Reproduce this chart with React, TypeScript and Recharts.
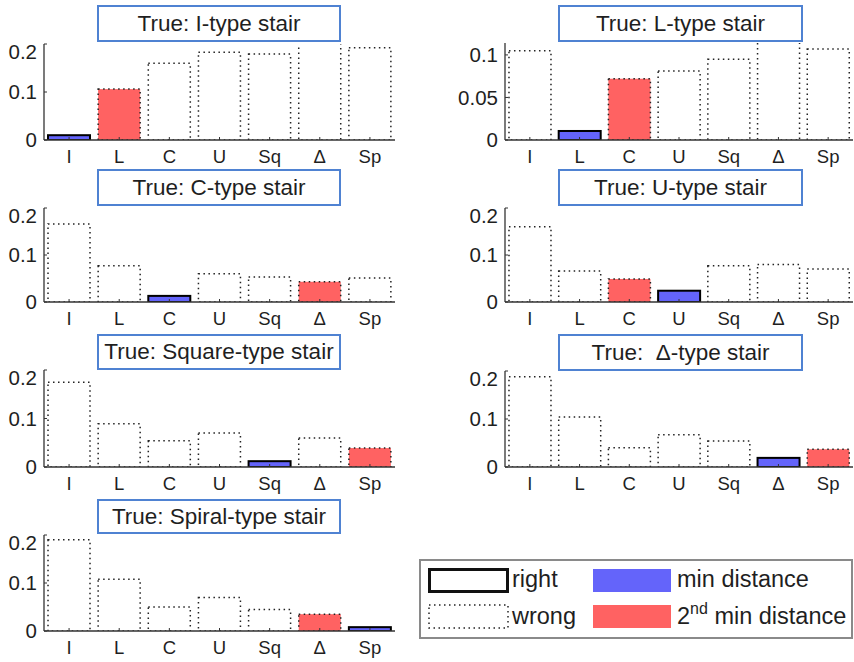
import React from 'react';
import { BarChart, Bar, XAxis, YAxis } from 'recharts';

// template stair types along the x axis
const categories = ['I', 'L', 'C', 'U', 'Sq', 'Δ', 'Sp'];

// distance from each true stair type to the templates
const iTypeDist = [0.01, 0.106, 0.16, 0.183, 0.179, 0.25, 0.192];
const lTypeDist = [0.105, 0.0106, 0.072, 0.081, 0.095, 0.13, 0.107];
const cTypeDist = [0.166, 0.077, 0.013, 0.06, 0.053, 0.043, 0.051];
const uTypeDist = [0.16, 0.066, 0.049, 0.024, 0.077, 0.08, 0.07];
const squareTypeDist = [0.175, 0.089, 0.054, 0.07, 0.012, 0.06, 0.039];
const deltaTypeDist = [0.188, 0.104, 0.04, 0.067, 0.054, 0.019, 0.037];
const spiralTypeDist = [0.19, 0.108, 0.05, 0.07, 0.045, 0.035, 0.008];

const ticksWide = [0, 0.1, 0.2];
const ticksNarrow = [0, 0.05, 0.1];

const FONT = '"Liberation Sans", Arial, Helvetica, sans-serif';
const BLUE = '#6464fa';
const RED = '#ff6262';
const FRAME = '#4f82d2';
const TEXT = '#1f1f1f';

const YW = 60; // y axis width
const TM = 4; // top margin
const RM = 2; // right margin
const XH = 34; // x axis height

type PanelDef = {
  title: string;
  values: number[];
  trueIdx: number;
  yMax: number;
  ticks: number[];
  left: number;
  top: number;
  right: number;
  bottom: number;
  box: [number, number, number, number];
};

const panels: PanelDef[] = [
  { title: 'True: I-type stair', values: iTypeDist, trueIdx: 0, yMax: 0.2, ticks: ticksWide, left: 44, top: 44, right: 395, bottom: 140, box: [97, 5, 341, 42] },
  { title: 'True: L-type stair', values: lTypeDist, trueIdx: 1, yMax: 0.114, ticks: ticksNarrow, left: 505, top: 43, right: 853, bottom: 140, box: [558, 5, 803, 42] },
  { title: 'True: C-type stair', values: cTypeDist, trueIdx: 2, yMax: 0.2, ticks: ticksWide, left: 44, top: 208, right: 395, bottom: 302, box: [97, 169, 341, 206] },
  { title: 'True: U-type stair', values: uTypeDist, trueIdx: 3, yMax: 0.2, ticks: ticksWide, left: 505, top: 208, right: 853, bottom: 302, box: [558, 169, 803, 206] },
  { title: 'True: Square-type stair', values: squareTypeDist, trueIdx: 4, yMax: 0.2, ticks: ticksWide, left: 44, top: 370, right: 395, bottom: 467, box: [97, 334, 341, 370] },
  { title: 'True:  Δ-type stair', values: deltaTypeDist, trueIdx: 5, yMax: 0.2, ticks: ticksWide, left: 505, top: 371, right: 853, bottom: 467, box: [558, 334, 803, 371] },
  { title: 'True: Spiral-type stair', values: spiralTypeDist, trueIdx: 6, yMax: 0.2, ticks: ticksWide, left: 44, top: 535, right: 395, bottom: 631, box: [97, 499, 341, 534] },
];

// bar outline: solid when the template is the right one, dotted otherwise
const makeShape = (minIdx: number, secondIdx: number, trueIdx: number) => (props: any) => {
  const { x, y, width, height } = props;
  const idx = props.payload?.idx ?? props.index;
  const right = idx === trueIdx;
  const fill = idx === minIdx ? BLUE : idx === secondIdx ? RED : 'none';
  return (
    <rect
      x={x}
      y={y}
      width={width}
      height={height}
      fill={fill}
      stroke={right ? '#000' : '#222'}
      strokeWidth={right ? 2 : 1.5}
      strokeDasharray={right ? undefined : '1.5 3.5'}
    />
  );
};

const Panel = ({ p }: { p: PanelDef }) => {
  const data = categories.map((name, i) => ({ name, value: p.values[i], idx: i }));
  const order = p.values.map((v, i) => [v, i]).sort((a, b) => a[0] - b[0]);
  const minIdx = order[0][1];
  const secondIdx = order[1][1];
  const plotW = p.right - p.left;
  const plotH = p.bottom - p.top;
  const [bx1, by1, bx2, by2] = p.box;

  return (
    <>
      <div style={{ position: 'absolute', left: p.left - YW, top: p.top - TM }}>
        <BarChart
          width={YW + plotW + RM}
          height={TM + plotH + XH}
          data={data}
          margin={{ top: TM, right: RM, left: 0, bottom: 0 }}
          barCategoryGap="8%"
        >
          <XAxis
            dataKey="name"
            height={XH}
            interval={0}
            tickSize={-3}
            tickMargin={13}
            axisLine={{ stroke: '#333', strokeWidth: 1.3 }}
            tickLine={{ stroke: '#333' }}
            tick={{ fill: TEXT, fontSize: 18.5, fontFamily: FONT }}
          />
          <YAxis
            width={YW}
            domain={[0, p.yMax]}
            ticks={p.ticks}
            allowDataOverflow
            tickSize={-3}
            tickMargin={10}
            axisLine={{ stroke: '#333', strokeWidth: 1.3 }}
            tickLine={{ stroke: '#333' }}
            tick={{ fill: TEXT, fontSize: 20.5, fontFamily: FONT }}
          />
          <YAxis
            yAxisId="frame"
            orientation="right"
            width={0}
            tick={false}
            tickLine={false}
            axisLine={{ stroke: '#e6e6e6' }}
          />
          <Bar dataKey="value" isAnimationActive={false} shape={makeShape(minIdx, secondIdx, p.trueIdx)} />
        </BarChart>
      </div>
      <div
        style={{
          position: 'absolute',
          left: bx1,
          top: by1,
          width: bx2 - bx1 - 4,
          height: by2 - by1 - 4,
          border: `2px solid ${FRAME}`,
          background: '#fff',
          fontFamily: FONT,
          fontSize: 22.5,
          color: TEXT,
          display: 'flex',
          alignItems: 'center',
          justifyContent: 'center',
          whiteSpace: 'pre',
        }}
      >
        {p.title}
      </div>
    </>
  );
};

const legendText: React.CSSProperties = {
  position: 'absolute',
  fontFamily: FONT,
  fontSize: 23.5,
  color: TEXT,
  lineHeight: '26px',
  whiteSpace: 'nowrap',
};

const Legend = () => (
  <div
    style={{
      position: 'absolute',
      left: 419,
      top: 559,
      width: 430,
      height: 76,
      border: '2px solid #8a8a8a',
      background: '#fff',
    }}
  >
    <svg width={430} height={76} style={{ position: 'absolute', left: 0, top: 0 }}>
      <rect x={8.5} y={8.5} width={78} height={22} fill="none" stroke="#111" strokeWidth={3} />
      <rect x={8} y={44} width={79} height={23} fill="none" stroke="#222" strokeWidth={1.5} strokeDasharray="1.5 3.5" />
      <rect x={172} y={8} width={78} height={23} fill={BLUE} />
      <rect x={172} y={44} width={78} height={23} fill={RED} />
    </svg>
    <div style={{ ...legendText, left: 91, top: 5 }}>right</div>
    <div style={{ ...legendText, left: 91, top: 42 }}>wrong</div>
    <div style={{ ...legendText, left: 256, top: 5 }}>min distance</div>
    <div style={{ ...legendText, left: 256, top: 42 }}>
      2<sup style={{ fontSize: 16, lineHeight: 0, verticalAlign: 10 }}>nd</sup> min distance
    </div>
  </div>
);

export default function App() {
  return (
    <div style={{ position: 'absolute', left: 0, top: 0, width: 854, height: 662, overflow: 'hidden', background: '#fff' }}>
      {panels.map((p) => (
        <Panel key={p.title} p={p} />
      ))}
      <Legend />
    </div>
  );
}
